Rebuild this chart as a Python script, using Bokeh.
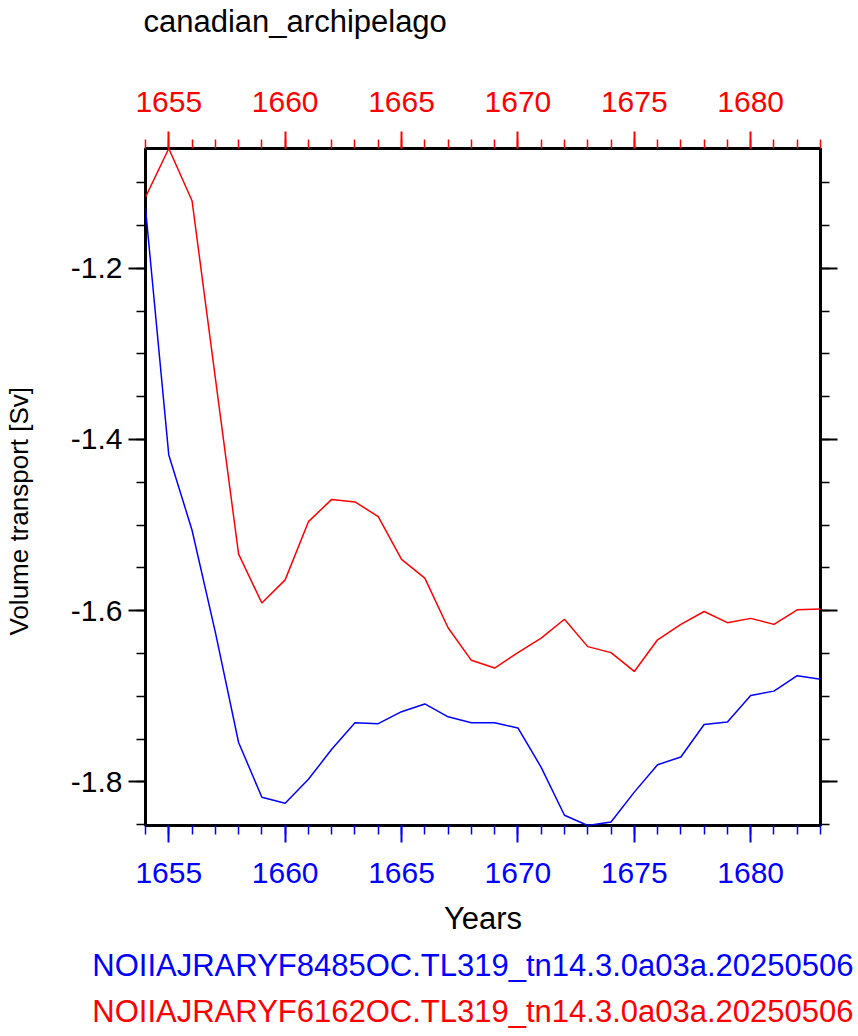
from bokeh.plotting import figure
from bokeh.models import LinearAxis, FixedTicker, Range1d, Title, CustomJSTickFormatter
from bokeh.embed import file_html
from bokeh.resources import INLINE

years = [1654, 1655, 1656, 1657, 1658, 1659, 1660, 1661, 1662, 1663,
         1664, 1665, 1666, 1667, 1668, 1669, 1670, 1671, 1672, 1673,
         1674, 1675, 1676, 1677, 1678, 1679, 1680, 1681, 1682, 1683]

blue_vals = [-1.130, -1.418, -1.506, -1.625, -1.754, -1.818, -1.825, -1.797, -1.762, -1.731,
             -1.732, -1.718, -1.709, -1.724, -1.731, -1.731, -1.737, -1.783, -1.839, -1.851,
             -1.847, -1.812, -1.780, -1.771, -1.733, -1.730, -1.699, -1.694, -1.676, -1.680]

red_vals = [-1.117, -1.060, -1.121, -1.328, -1.534, -1.591, -1.564, -1.496, -1.470, -1.473,
            -1.490, -1.540, -1.562, -1.620, -1.658, -1.667, -1.649, -1.632, -1.610, -1.642,
            -1.649, -1.671, -1.634, -1.616, -1.601, -1.614, -1.609, -1.616, -1.599, -1.598]

x_major = [1655, 1660, 1665, 1670, 1675, 1680]
y_major = [-1.8, -1.6, -1.4, -1.2]
y_minor = [-1.85, -1.8, -1.75, -1.7, -1.65, -1.6, -1.55, -1.5, -1.45, -1.4,
           -1.35, -1.3, -1.25, -1.2, -1.15, -1.1, -1.05]

title_text = "canadian_archipelago"
x_label = "Years"
y_label = "Volume transport [Sv]"
blue_name = "NOIIAJRARYF8485OC.TL319_tn14.3.0a03a.20250506"
red_name = "NOIIAJRARYF6162OC.TL319_tn14.3.0a03a.20250506"

FONT = "Liberation Sans"
BLUE = "#0000FF"
RED = "#FF0000"

all_vals = blue_vals + red_vals
p = figure(width=858, height=1036, output_backend="svg", toolbar_location=None,
           x_range=Range1d(years[0], years[-1]),
           y_range=Range1d(min(all_vals), max(all_vals)),
           min_border_left=145, min_border_right=38, min_border_top=148,
           min_border_bottom=211)

p.grid.visible = False
p.outline_line_color = "black"
p.outline_line_width = 3
p.background_fill_color = "white"
p.border_fill_color = "white"

p.line(years, blue_vals, line_color=BLUE, line_width=1.5)
p.line(years, red_vals, line_color=RED, line_width=1.5)


def style_axis(ax, color, label_color):
    ax.axis_line_color = None
    ax.major_tick_in = 0
    ax.minor_tick_in = 0
    ax.major_tick_out = 17
    ax.minor_tick_out = 9
    ax.major_tick_line_color = color
    ax.minor_tick_line_color = color
    ax.major_tick_line_width = 2
    ax.minor_tick_line_width = 1.5
    ax.major_label_text_color = label_color
    ax.major_label_text_font = FONT
    ax.major_label_text_font_size = "30px"
    ax.axis_label_text_font = FONT
    ax.axis_label_text_font_size = "31px"
    ax.axis_label_text_font_style = "normal"
    ax.axis_label_text_color = "black"


xticker = FixedTicker(ticks=x_major, minor_ticks=years)
yticker = FixedTicker(ticks=y_major, minor_ticks=y_minor)

xb = p.xaxis[0]
xb.ticker = xticker
style_axis(xb, BLUE, BLUE)
xb.axis_label = x_label
xb.major_label_standoff = 20
xb.axis_label_standoff = 15

xt = LinearAxis(ticker=xticker)
style_axis(xt, RED, RED)
xt.major_label_standoff = 20
p.add_layout(xt, "above")

# main title: an extra (empty) line below it lifts it above the top axis
p.title.text = title_text + "\n"
p.title.text_font = FONT
p.title.text_font_size = "31px"
p.title.text_font_style = "normal"
p.title.text_color = "black"
p.title.align = "left"
p.title.offset = -2
p.title.standoff = 0
p.title.text_line_height = 1.42

yl = p.yaxis[0]
yl.ticker = yticker
yl.formatter = CustomJSTickFormatter(code="return tick.toFixed(1)")
style_axis(yl, "black", "black")
yl.major_label_standoff = 6

# y-axis title as a left-side title, started 190 px above the frame's bottom
ytitle = Title(text=y_label + "\n", align="left", offset=190, standoff=0,
               text_font=FONT, text_font_size="26px", text_font_style="normal",
               text_color="black", text_line_height=1.12)
p.add_layout(ytitle, "left")

yr = LinearAxis(ticker=yticker, formatter=CustomJSTickFormatter(code="return ''"))
style_axis(yr, "black", "black")
yr.major_label_standoff = 0
p.add_layout(yr, "right")

for name, col, so in [(blue_name, BLUE, 14), (red_name, RED, 4)]:
    t = Title(text=name, text_color=col, align="right", text_font=FONT,
              text_font_size="31px", text_font_style="normal", offset=-33, standoff=so)
    p.add_layout(t, "below")

open("out.html", "w").write(file_html(p, INLINE))
